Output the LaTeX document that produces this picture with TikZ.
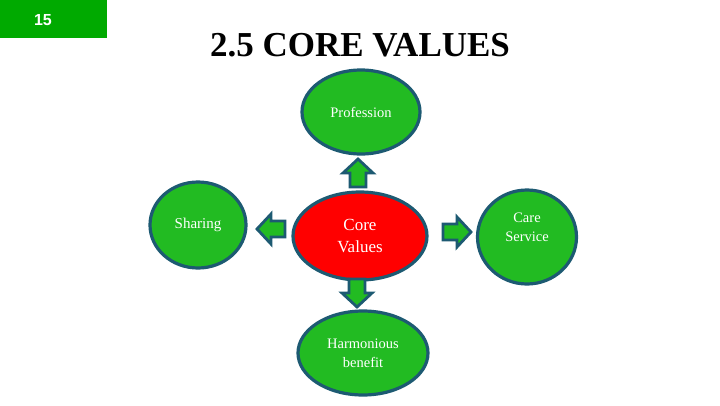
\documentclass[tikz,border=0pt]{standalone}
\usepackage{fontspec}
\setmainfont{Liberation Serif}
\newfontfamily\numfont{Liberation Sans}
\definecolor{bgreen}{HTML}{22BB22}
\definecolor{tagreen}{HTML}{00AA00}
\definecolor{edge}{HTML}{1D5A72}
\definecolor{cred}{HTML}{FF0000}
\tikzset{
  bubble/.style={ellipse,draw=edge,line width=3.2pt,fill=bgreen,text=white,align=center,inner sep=0pt,font=\fontsize{14.5}{19}\selectfont},
  corebubble/.style={bubble,fill=cred,font=\fontsize{17}{22}\selectfont},
  barrow/.pic={\draw[draw=edge,line width=2.8pt,fill=bgreen,line join=miter]
     (0,-8) -- (14,-8) -- (14,-15) -- (28,0) -- (14,15) -- (14,8) -- (0,8) -- cycle;}
}
\usetikzlibrary{shapes.geometric}
\begin{document}
\begin{tikzpicture}[x=1pt,y=-1pt]
\useasboundingbox (0,0) rectangle (720,405);
\fill[white] (0,0) rectangle (720,405);
\node[fill=tagreen,minimum width=107pt,minimum height=38pt,inner sep=0pt,anchor=north west] (tag) at (0,0) {};
\node[text=white,font=\numfont\bfseries\fontsize{16}{18}\selectfont] (num) at (43,20) {15};
\node[font=\bfseries\fontsize{35}{40}\selectfont] (title) at (360,45) {2.5 CORE VALUES};
\node[bubble,minimum width=118pt,minimum height=84pt] (prof) at (361,112) {Profession};
\node[corebubble,minimum width=134pt,minimum height=88pt] (core) at (360,236) {Core\\Values};
\node[bubble,minimum width=96pt,minimum height=86pt,font=\fontsize{15}{18}\selectfont] (share) at (198,225) {Sharing};
\node[bubble,minimum width=99pt,minimum height=94pt] (care) at (527,237) {Care\\Service\\\mbox{}};
\node[bubble,minimum width=130pt,minimum height=84pt] (harm) at (363,353) {Harmonious\\benefit};
\pic[rotate=90] at (358,187) {barrow};
\pic[rotate=180] at (285,229) {barrow};
\pic at (443,232) {barrow};
\pic[rotate=-90] at (357,279) {barrow};
\end{tikzpicture}
\end{document}
